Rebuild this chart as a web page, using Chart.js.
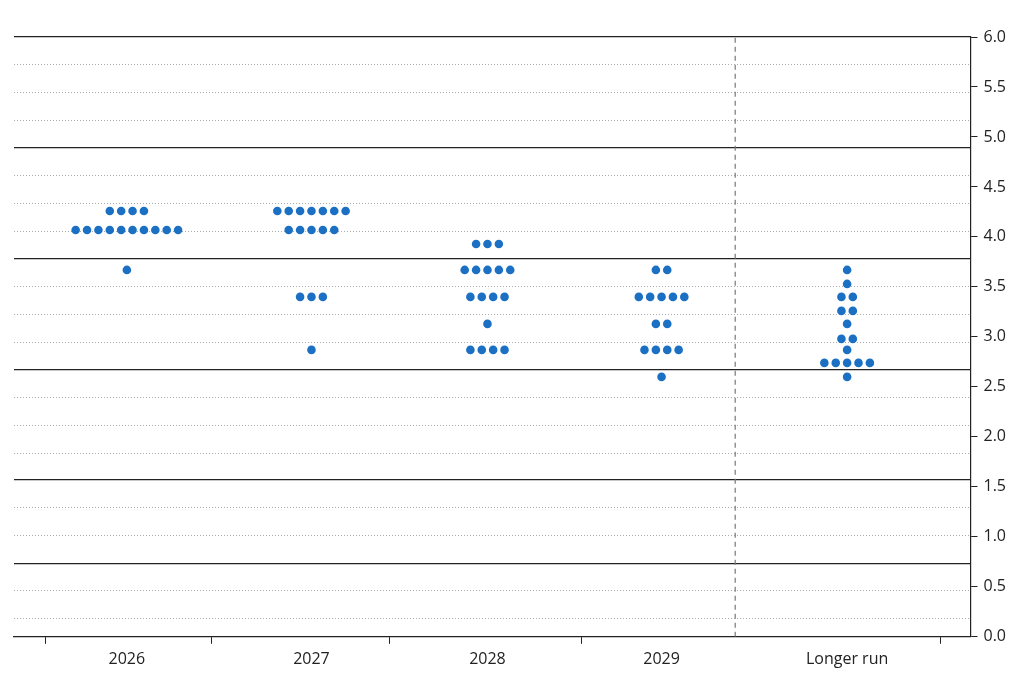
<!DOCTYPE html>
<html><head><meta charset="utf-8">
<script src="https://cdn.jsdelivr.net/npm/chart.js@4"></script>
<style>html,body{margin:0;background:#fff}#w{width:1024px;height:683px}</style>
</head><body><div id="w"><canvas id="c"></canvas></div>
<script>
const categories = ["2026","2027","2028","2029","Longer run"];
const categoryCenters = [1.18, 3.11, 4.95, 6.77, 8.71];
const tickMarks = [0.33, 2.07, 3.93, 5.93, 9.69];
const dividerX = 7.54;
const dotStep = 0.119;
// [rate level, number of dots] per category
const dots2026 = [[4.26,4],[4.07,10],[3.67,1]];
const dots2027 = [[4.26,7],[4.07,5],[3.40,3],[2.87,1]];
const dots2028 = [[3.93,3],[3.67,5],[3.40,4],[3.13,1],[2.87,4]];
const dots2029 = [[3.67,2],[3.40,5],[3.13,2],[2.87,4],[2.60,1]];
const dotsLonger = [[3.67,1],[3.53,1],[3.40,2],[3.26,2],[3.13,1],[2.98,2],[2.87,1],[2.74,5],[2.60,1]];
const solidLines = [6.0, 4.89, 3.78, 2.67, 1.57, 0.73];
const dottedLines = [5.72,5.44,5.16,4.61,4.33,4.05,3.50,3.22,2.94,2.39,2.11,1.83,1.29,1.01,0.46,0.18];

const allDots = [dots2026,dots2027,dots2028,dots2029,dotsLonger];
const points = [];
allDots.forEach((rows,ci)=>rows.forEach(([v,n])=>{
  for(let k=0;k<n;k++) points.push({x:categoryCenters[ci]+(k-(n-1)/2)*dotStep,y:v});
}));
const xTicks = tickMarks.map(v=>({v,mark:true})).concat(categoryCenters.map((v,i)=>({v,mark:false,label:categories[i]})));
const font = {family:"'Open Sans'", size:16};
new Chart(document.getElementById('c'),{
  type:'scatter',
  data:{datasets:[
    {data:points,pointRadius:4.3,pointHoverRadius:4.3,backgroundColor:'#1b70c4',borderWidth:0,order:0},
    {type:'line',data:[{x:dividerX,y:0},{x:dividerX,y:6}],borderColor:'#777',borderWidth:1.2,borderDash:[5,4],pointRadius:0,order:1}
  ]},
  options:{
    responsive:true,maintainAspectRatio:false,animation:false,
    layout:{padding:{left:14,top:37,right:12,bottom:8}},
    plugins:{legend:{display:false},tooltip:{enabled:false}},
    scales:{
      x:{type:'linear',min:0,max:10,
        afterBuildTicks:s=>{s.ticks=xTicks.map(t=>({value:t.v}));},
        ticks:{autoSkip:false,maxRotation:0,color:'#222',font,padding:6,
          callback:(v)=>{const t=xTicks.find(t=>Math.abs(t.v-v)<1e-6);return t&&!t.mark?t.label:'';}},
        grid:{drawOnChartArea:false,tickLength:7,color:ctx=>{const t=xTicks.find(t=>Math.abs(t.v-ctx.tick.value)<1e-6);return t&&t.mark?'#222':'rgba(0,0,0,0)';}},
        border:{color:'#222',width:1.2}},
      y:{position:'right',min:0,max:6,
        ticks:{stepSize:0.5,color:'#222',font,padding:6,callback:v=>v.toFixed(1)},
        grid:{drawOnChartArea:false,tickLength:7,color:'#222'},
        border:{color:'#222',width:1.2}},
      ys:{position:'left',min:0,max:6,
        afterBuildTicks:s=>{s.ticks=solidLines.map(v=>({value:v}));},
        ticks:{display:false},grid:{drawTicks:false,color:'#222',lineWidth:1.2},border:{display:false}},
      yd:{position:'left',min:0,max:6,
        afterBuildTicks:s=>{s.ticks=dottedLines.map(v=>({value:v}));},
        ticks:{display:false},grid:{drawTicks:false,color:'#aaa',lineWidth:1},border:{display:false,dash:[1,2]}}
    }
  }
});
</script></body></html>
